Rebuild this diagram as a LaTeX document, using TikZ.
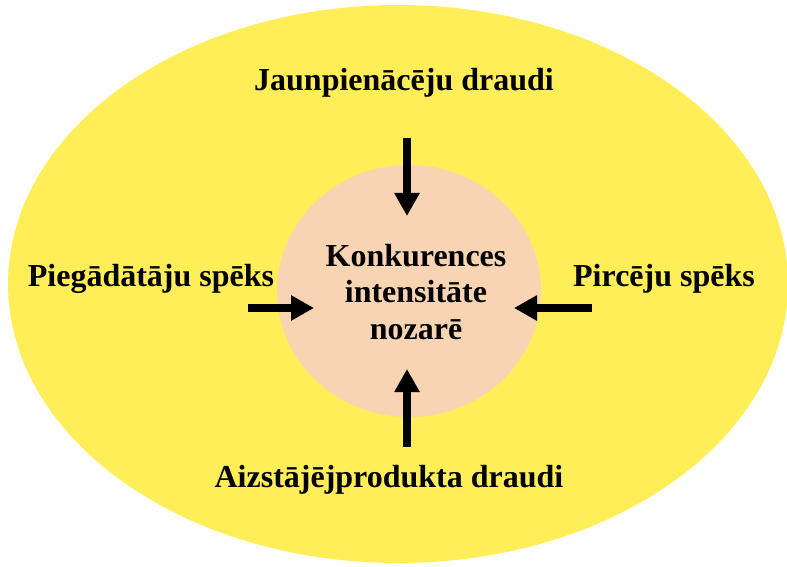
\documentclass[tikz,border=0pt]{standalone}
\usepackage{fontspec}
\setmainfont{Liberation Serif}
\usepackage{tikz}
\usetikzlibrary{arrows.meta}
\usetikzlibrary{positioning}
\definecolor{fieldcolor}{HTML}{FFEE58}
\definecolor{corecolor}{HTML}{F9D4B2}

\tikzset{
  force/.style={font=\bfseries\fontsize{32}{36.5}\selectfont, anchor=base, inner sep=0pt},
  push/.style={line width=7.5pt, -{Triangle[width=24pt,length=23pt]}}
}

\begin{document}
\begin{tikzpicture}[x=1pt,y=1pt]
  \useasboundingbox (0,0) rectangle (787,566);
  \fill [fieldcolor] (398,282) ellipse [x radius=390, y radius=279];
  \fill [corecolor] (409,275) ellipse [x radius=132, y radius=126];
%% labels
  \node [force, align=center, anchor=center] (core) at (416,274) {Konkurences\\intensitāte\\nozarē};
  \node [force] (newcomers) at (404,475) {Jaunpienācēju draudi};
  \node [force] (suppliers) at (151,280) {Piegādātāju spēks};
  \node [force] (buyers) at (664,280) {Pircēju spēks};
  \node [force] (substitutes) at (389,79) {Aizstājējprodukta draudi};
%% arrows
  \coordinate (ntail) at (407,428);
  \coordinate (nhead) at (407,350);
  \coordinate (stail) at (248,258);
  \coordinate (shead) at (314,258);
  \coordinate (btail) at (592,258);
  \coordinate (bhead) at (514,258);
  \coordinate (ptail) at (407,119);
  \coordinate (phead) at (407,197);
  \draw [push] (ntail) -- (nhead);
  \draw [push] (stail) -- (shead);
  \draw [push] (btail) -- (bhead);
  \draw [push] (ptail) -- (phead);
\end{tikzpicture}
\end{document}
